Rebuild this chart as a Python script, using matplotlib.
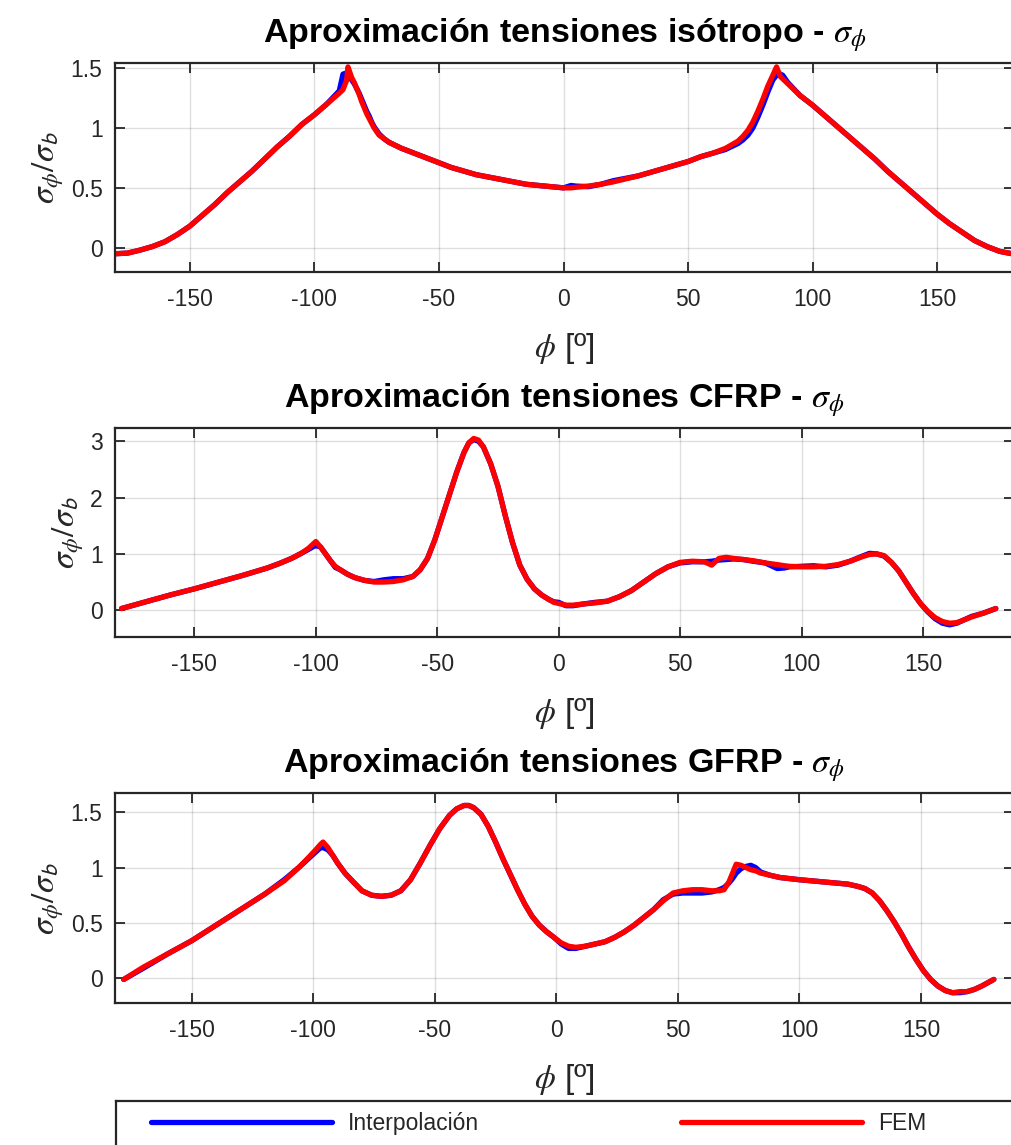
import matplotlib
matplotlib.use("Agg")
import matplotlib.pyplot as plt
from matplotlib.ticker import FuncFormatter

plt.rcParams['font.family'] = ['Liberation Sans', 'DejaVu Sans']
plt.rcParams['mathtext.fontset'] = 'stix'
plt.rcParams['axes.unicode_minus'] = False

# ---------------- data: normalised hoop stress sigma_phi / sigma_b ----------------
phi_iso = [-180, -175, -170, -165, -160, -155, -150, -145, -140, -135, -130, -125,
           -120, -115, -110, -105, -100, -95, -90, -88.5, -87, -86.5, -85, -84, -83,
           -82, -81, -80, -79, -78, -77, -76, -74, -72, -70, -65, -60, -55, -50,
           -45, -40, -35, -30, -25, -20, -15, -10, -5, 0, 3, 5, 10, 15, 20, 25, 30,
           35, 40, 45, 50, 55, 60, 65, 70, 72, 74, 76, 78, 80, 82, 84, 85.5, 87,
           88, 90, 95, 100, 105, 110, 115, 120, 125, 130, 135, 140, 145, 150, 155,
           160, 165, 170, 175, 180]
fem_iso = [-0.05, -0.045, -0.02, 0.01, 0.05, 0.11, 0.18, 0.27, 0.36, 0.46, 0.55, 0.64,
           0.74, 0.84, 0.93, 1.03, 1.11, 1.20, 1.29, 1.32, 1.40, 1.51, 1.42, 1.38, 1.33,
           1.28, 1.22, 1.17, 1.12, 1.08, 1.04, 1.00, 0.94, 0.91, 0.88, 0.83, 0.79, 0.75, 0.71,
           0.67, 0.64, 0.61, 0.59, 0.57, 0.55, 0.53, 0.52, 0.51, 0.50, 0.50, 0.505, 0.515,
           0.53, 0.55, 0.575, 0.60, 0.63, 0.66, 0.69, 0.72, 0.76, 0.79, 0.83, 0.89, 0.93,
           0.98, 1.05, 1.14, 1.24, 1.35, 1.44, 1.51, 1.43, 1.41, 1.37, 1.27, 1.19, 1.10,
           1.01, 0.92, 0.83, 0.74, 0.64, 0.55, 0.46, 0.37, 0.28, 0.20, 0.13, 0.06, 0.01,
           -0.03, -0.05]
interp_iso = [-0.05, -0.045, -0.02, 0.01, 0.05, 0.11, 0.18, 0.27, 0.36, 0.46, 0.55, 0.64,
              0.74, 0.84, 0.93, 1.03, 1.11, 1.20, 1.31, 1.45, 1.46, 1.45, 1.40, 1.37, 1.33,
              1.29, 1.24, 1.19, 1.14, 1.10, 1.05, 1.01, 0.95, 0.91, 0.88, 0.83, 0.79, 0.75,
              0.71, 0.67, 0.64, 0.61, 0.59, 0.57, 0.55, 0.53, 0.52, 0.51, 0.50, 0.52, 0.515,
              0.51, 0.53, 0.56, 0.58, 0.60, 0.63, 0.66, 0.69, 0.72, 0.76, 0.79, 0.82, 0.87,
              0.90, 0.94, 1.00, 1.09, 1.19, 1.30, 1.40, 1.44, 1.45, 1.44, 1.38, 1.27, 1.19,
              1.10, 1.01, 0.92, 0.83, 0.74, 0.64, 0.55, 0.46, 0.37, 0.28, 0.20, 0.13, 0.06,
              0.01, -0.03, -0.05]

phi_cfrp = [-180, -170, -160, -150, -140, -130, -120, -115, -110, -106, -103, -101, -100,
            -98, -96, -94, -92, -90, -87, -84, -80, -76, -72, -68, -64, -60, -57, -54, -51,
            -48, -45, -42, -39, -37, -35, -33, -31, -28, -25, -22, -19, -16, -13, -10, -7,
            -4, -2, 0, 3, 6, 10, 15, 20, 25, 30, 35, 40, 45, 50, 55, 60, 63, 66, 69, 72, 76,
            80, 85, 90, 93, 95, 100, 105, 110, 115, 120, 125, 128, 131, 134, 137, 140, 143,
            146, 149, 152, 155, 158, 161, 164, 167, 170, 175, 180]
fem_cfrp = [0.03, 0.15, 0.27, 0.38, 0.50, 0.62, 0.75, 0.83, 0.92, 1.01, 1.10, 1.18, 1.22,
            1.12, 1.00, 0.88, 0.78, 0.72, 0.64, 0.58, 0.53, 0.50, 0.50, 0.51, 0.54, 0.60, 0.72,
            0.92, 1.25, 1.65, 2.05, 2.45, 2.80, 2.97, 3.05, 3.02, 2.90, 2.60, 2.20, 1.68, 1.20,
            0.80, 0.55, 0.38, 0.27, 0.19, 0.14, 0.12, 0.09, 0.09, 0.11, 0.13, 0.16, 0.24, 0.35,
            0.50, 0.65, 0.77, 0.85, 0.87, 0.86, 0.80, 0.92, 0.94, 0.92, 0.90, 0.88, 0.84, 0.81,
            0.79, 0.78, 0.77, 0.77, 0.78, 0.81, 0.87, 0.95, 0.99, 1.00, 0.97, 0.85, 0.70, 0.50,
            0.30, 0.12, -0.02, -0.13, -0.20, -0.23, -0.22, -0.17, -0.12, -0.05, 0.03]
interp_cfrp = [0.03, 0.15, 0.27, 0.38, 0.50, 0.62, 0.75, 0.83, 0.92, 1.01, 1.08, 1.13, 1.15,
               1.12, 1.00, 0.88, 0.76, 0.72, 0.64, 0.58, 0.53, 0.51, 0.54, 0.56, 0.56, 0.60,
               0.72, 0.92, 1.25, 1.65, 2.05, 2.45, 2.80, 2.97, 3.03, 3.00, 2.90, 2.60, 2.20,
               1.68, 1.20, 0.80, 0.55, 0.38, 0.27, 0.19, 0.15, 0.14, 0.08, 0.08, 0.11, 0.14,
               0.16, 0.24, 0.35, 0.50, 0.65, 0.77, 0.84, 0.86, 0.86, 0.87, 0.89, 0.90, 0.91,
               0.90, 0.87, 0.84, 0.74, 0.75, 0.77, 0.78, 0.79, 0.77, 0.80, 0.87, 0.96, 1.01,
               1.00, 0.96, 0.85, 0.70, 0.50, 0.30, 0.12, -0.03, -0.15, -0.23, -0.26, -0.23,
               -0.17, -0.11, -0.05, 0.03]

phi_gfrp = [-178, -170, -160, -150, -140, -130, -120, -112, -106, -102, -99, -97, -96, -94,
            -92, -90, -87, -84, -80, -76, -72, -68, -64, -60, -56, -52, -48, -44, -41, -38,
            -36, -34, -31, -28, -25, -22, -19, -16, -13, -10, -7, -4, -1, 2, 5, 8, 12, 16,
            20, 24, 28, 32, 36, 40, 44, 48, 52, 56, 60, 64, 67, 69, 71, 72.5, 74, 76, 78, 80,
            82, 84, 88, 92, 96, 100, 105, 110, 115, 120, 124, 127, 130, 133, 136, 139, 142,
            145, 148, 151, 154, 157, 160, 163, 166, 169, 172, 175, 180]
fem_gfrp = [-0.01, 0.10, 0.22, 0.34, 0.48, 0.62, 0.76, 0.88, 1.00, 1.09, 1.16, 1.21, 1.23,
            1.18, 1.11, 1.04, 0.95, 0.88, 0.79, 0.75, 0.74, 0.75, 0.79, 0.89, 1.04, 1.20, 1.35,
            1.47, 1.53, 1.56, 1.56, 1.54, 1.48, 1.37, 1.23, 1.08, 0.94, 0.80, 0.67, 0.56, 0.48,
            0.42, 0.37, 0.32, 0.29, 0.28, 0.29, 0.31, 0.33, 0.37, 0.42, 0.48, 0.55, 0.62, 0.70,
            0.77, 0.79, 0.80, 0.80, 0.79, 0.79, 0.80, 0.87, 0.95, 1.03, 1.02, 1.00, 0.98, 0.97,
            0.95, 0.93, 0.91, 0.90, 0.89, 0.88, 0.87, 0.86, 0.85, 0.83, 0.81, 0.77, 0.70, 0.61,
            0.51, 0.40, 0.28, 0.17, 0.07, -0.01, -0.07, -0.11, -0.13, -0.12, -0.12, -0.10,
            -0.07, -0.01]
interp_gfrp = [-0.01, 0.09, 0.22, 0.34, 0.48, 0.62, 0.76, 0.89, 1.00, 1.08, 1.14, 1.18,
               1.18, 1.16, 1.11, 1.04, 0.95, 0.88, 0.79, 0.75, 0.74, 0.75, 0.79, 0.89, 1.04,
               1.20, 1.35, 1.47, 1.53, 1.56, 1.56, 1.54, 1.48, 1.37, 1.23, 1.08, 0.94, 0.80,
               0.67, 0.56, 0.48, 0.42, 0.37, 0.31, 0.27, 0.27, 0.29, 0.31, 0.33, 0.37, 0.42,
               0.48, 0.55, 0.62, 0.71, 0.76, 0.77, 0.77, 0.77, 0.78, 0.80, 0.82, 0.86, 0.90,
               0.95, 0.99, 1.01, 1.02, 1.00, 0.96, 0.93, 0.91, 0.90, 0.89, 0.88, 0.87, 0.86,
               0.85, 0.83, 0.81, 0.77, 0.70, 0.61, 0.51, 0.40, 0.28, 0.17, 0.07, -0.01, -0.07,
               -0.11, -0.13, -0.13, -0.12, -0.10, -0.07, -0.01]

titles = ["Aproximación tensiones isótropo",
          "Aproximación tensiones CFRP",
          "Aproximación tensiones GFRP"]
series_labels = ["Interpolación", "FEM"]
x_ticks = [-150, -100, -50, 0, 50, 100, 150]
y_ticks_iso = [0, 0.5, 1, 1.5]
y_ticks_cfrp = [0, 1, 2, 3]
y_ticks_gfrp = [0, 0.5, 1, 1.5]

# ---------------- figure ----------------
W, H = 1011, 1145
fig = plt.figure(figsize=(W / 100, H / 100), dpi=100)
ink = '#262626'
AX_L, AX_R = 115, 1014


def axes_px(left, top, right, bottom):
    return fig.add_axes([left / W, 1 - bottom / H, (right - left) / W, (bottom - top) / H])


panels = [
    (titles[0], phi_iso, interp_iso, fem_iso, (-180, 180.8), (-0.2, 1.54), y_ticks_iso, 63.3, 271.7),
    (titles[1], phi_cfrp, interp_cfrp, fem_cfrp, (-182.7, 187.5), (-0.47, 3.23), y_ticks_cfrp, 428.3, 636.7),
    (titles[2], phi_gfrp, interp_gfrp, fem_gfrp, (-181.6, 188.3), (-0.22, 1.67), y_ticks_gfrp, 793.3, 1002.7),
]

handles = None
for title, phi, interp, fem, xlim, ylim, yticks, top, bottom in panels:
    ax = axes_px(AX_L, top, AX_R, bottom)
    hb, = ax.plot(phi, interp, color='#0000ff', lw=3.8, solid_joinstyle='round',
                  solid_capstyle='round')
    hr, = ax.plot(phi, fem, color='#ff0000', lw=3.8, solid_joinstyle='round',
                  solid_capstyle='round')
    handles = [hb, hr]
    ax.set_xlim(*xlim)
    ax.set_ylim(*ylim)
    ax.set_xticks(x_ticks)
    ax.set_yticks(yticks)
    ax.yaxis.set_major_formatter(FuncFormatter(lambda v, p: f"{v:g}"))
    ax.grid(True, color=ink, alpha=0.15, lw=1.0)
    ax.set_axisbelow(True)
    ax.tick_params(direction='in', length=7, width=1.3, top=True, right=True,
                   color=ink, labelcolor=ink, labelsize=16.5)
    ax.tick_params(axis='x', pad=12)
    ax.tick_params(axis='y', pad=9)
    for s in ax.spines.values():
        s.set_color(ink)
        s.set_linewidth(1.6)
    ax.set_title(title + r" - $\sigma_\phi$", fontsize=24.5, fontweight='bold',
                 color='black', pad=15)
    ax.set_xlabel(r"$\phi$ [º]", fontsize=24, color=ink, labelpad=14)
    ax.set_ylabel(r"$\sigma_\phi/\sigma_\mathsf{b}$", fontsize=24, color=ink, labelpad=3)

# legend box spanning the width under the panels
ax_leg = fig.add_axes([116 / W, -0.05, (AX_R + 2 - 116) / W, (H - 1100.7) / H + 0.05])
ax_leg.set_xticks([])
ax_leg.set_yticks([])
for s in ax_leg.spines.values():
    s.set_color(ink)
    s.set_linewidth(1.6)
ax_leg.legend(handles, series_labels, ncol=2, loc='center left',
              bbox_to_anchor=(151 / W, 1 - 1123.5 / H), bbox_transform=fig.transFigure,
              frameon=False, handlelength=7.9, handletextpad=0.7, columnspacing=8.8,
              borderpad=0, borderaxespad=0, fontsize=16.5, labelcolor=ink)

fig.savefig("out.png", dpi=100)
